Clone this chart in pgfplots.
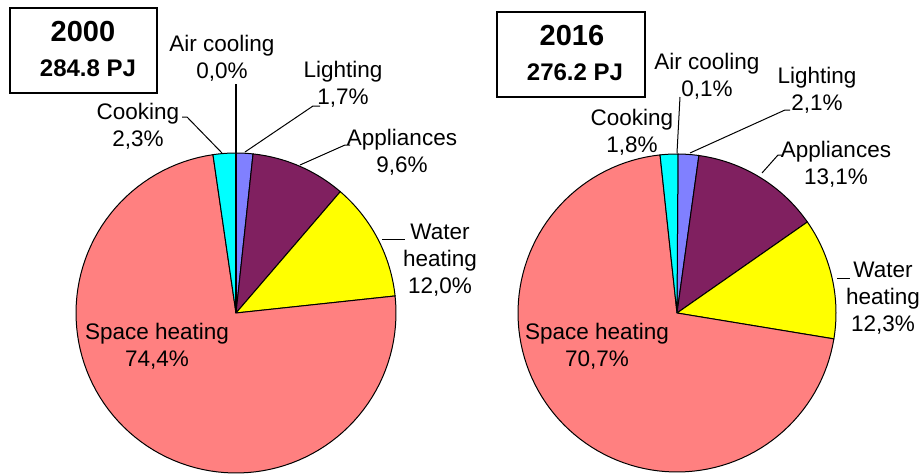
\documentclass[border=0pt]{standalone}
\usepackage{fontspec}
\setmainfont{Liberation Sans}
\usepackage{pgfplots}
\pgfplotsset{compat=1.18}
\definecolor{cAir}{HTML}{000000}
\definecolor{cLight}{HTML}{8080FF}
\definecolor{cAppl}{HTML}{802060}
\definecolor{cWater}{HTML}{FFFF00}
\definecolor{cSpace}{HTML}{FF8080}
\definecolor{cCook}{HTML}{00FFFF}
% #1 cx, #2 cy, #3 radius, #4 cumulative share before slice (%), #5 share (%), #6 colour
\newcommand{\slice}[6]{%
  \addplot[draw=black, line width=0.5pt, fill=#6, mark=none, samples=100, variable=\t,
    domain=90-3.6*(#4+#5):90-3.6*(#4)]
    ({#1+#3*cos(\t)}, {#2+#3*sin(\t)}) -- (#1,#2) -- cycle;}
\newcommand{\lab}{\fontsize{11.25}{13.5}\selectfont}
\begin{document}
\begin{tikzpicture}
\begin{axis}[scale only axis, width=461.5pt, height=236.5pt,
  xmin=0, xmax=923, ymin=0, ymax=473, hide axis, clip=true,
  every axis plot/.append style={mark=none}]
% ---- 2000: Air cooling 0.0, Lighting 1.7, Appliances 9.6, Water heating 12.0, Space heating 74.4, Cooking 2.3
\slice{236}{160}{160}{0.0}{1.7}{cLight}
\slice{236}{160}{160}{0.0+1.7}{9.6}{cAppl}
\slice{236}{160}{160}{0.0+1.7+9.6}{12.0}{cWater}
\slice{236}{160}{160}{0.0+1.7+9.6+12.0}{74.4}{cSpace}
\slice{236}{160}{160}{0.0+1.7+9.6+12.0+74.4}{2.3}{cCook}
% ---- 2016: Air cooling 0.1, Lighting 2.1, Appliances 13.1, Water heating 12.3, Space heating 70.7, Cooking 1.8
\slice{677}{160}{159}{0}{0.1}{cAir}
\slice{677}{160}{159}{0.1}{2.1}{cLight}
\slice{677}{160}{159}{0.1+2.1}{13.1}{cAppl}
\slice{677}{160}{159}{0.1+2.1+13.1}{12.3}{cWater}
\slice{677}{160}{159}{0.1+2.1+13.1+12.3}{70.7}{cSpace}
\slice{677}{160}{159}{0.1+2.1+13.1+12.3+70.7}{1.8}{cCook}
% ---- leader lines
\addplot[black, line width=0.6pt] coordinates {(236,389) (236,160)};
\addplot[black, line width=0.5pt] coordinates {(320,367) (313,367) (245,321)};
\addplot[black, line width=0.5pt] coordinates {(182,356) (187,356) (222,320)};
\addplot[black, line width=0.5pt] coordinates {(350,328) (345,328) (300,308)};
\addplot[black, line width=0.5pt] coordinates {(382,234) (405,234)};
\addplot[black, line width=0.5pt] coordinates {(680,376) (677,320)};
\addplot[black, line width=0.5pt] coordinates {(790,363) (785,363) (690,320)};
\addplot[black, line width=0.5pt] coordinates {(782,318) (778,318) (762,300)};
\addplot[black, line width=0.5pt] coordinates {(837,195) (850,195)};
% ---- labels
\node[align=center, font=\lab] at (222,414.5) {Air cooling\\0,0\%};
\node[align=center, font=\lab] at (343,389) {Lighting\\1,7\%};
\node[align=center, font=\lab] at (138,346.5) {Cooking\\2,3\%};
\node[align=center, font=\lab] at (402,320.5) {Appliances\\9,6\%};
\node[align=center, font=\lab] at (440,213) {Water\\heating\\12,0\%};
\node[align=center, font=\lab] at (157,126.5) {Space heating\\74,4\%};
\node[align=center, font=\lab] at (707,396.5) {Air cooling\\0,1\%};
\node[align=center, font=\lab] at (817,383) {Lighting\\2,1\%};
\node[align=center, font=\lab] at (632,340.5) {Cooking\\1,8\%};
\node[align=center, font=\lab] at (836,308.5) {Appliances\\13,1\%};
\node[align=center, font=\lab] at (883,175) {Water\\heating\\12,3\%};
\node[align=center, font=\lab] at (597,126.5) {Space heating\\70,7\%};
% ---- title boxes
\draw[black, line width=0.6pt] (10,380) rectangle (157,465);
\node[font=\fontsize{14.5}{16}\selectfont\bfseries] at (83,441) {2000};
\node[font=\fontsize{12}{14}\selectfont\bfseries] at (88,405) {284.8 PJ};
\draw[black, line width=0.6pt] (497,376) rectangle (645,461);
\node[font=\fontsize{14.5}{16}\selectfont\bfseries] at (572,437) {2016};
\node[font=\fontsize{12}{14}\selectfont\bfseries] at (575,401) {276.2 PJ};
\end{axis}
\path (0,0) rectangle (461.5pt,236.5pt);
\end{tikzpicture}
\end{document}
